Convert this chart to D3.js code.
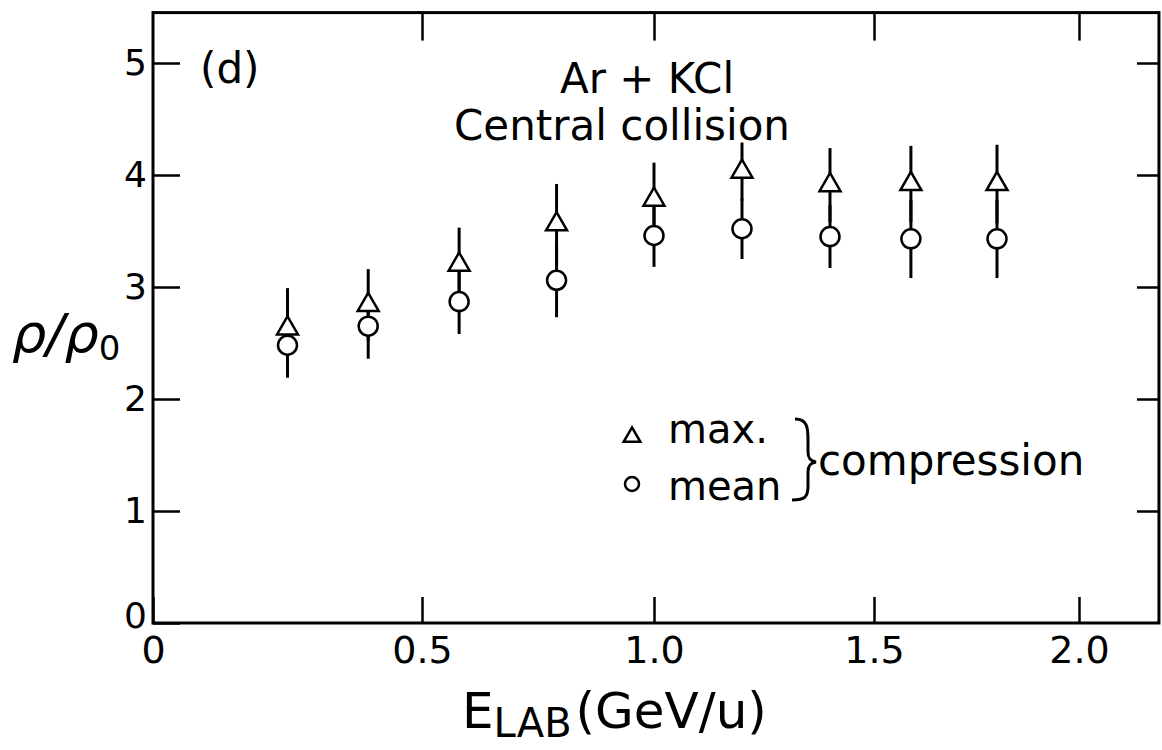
<!DOCTYPE html>
<html>
<head>
<meta charset="utf-8">
<script src="https://cdn.jsdelivr.net/npm/d3@7"></script>
<style>
  body { margin: 0; background: #fff; }
  text { font-family: "DejaVu Sans", sans-serif; fill: #000; }
</style>
</head>
<body>
<svg id="chart" width="1162" height="750"></svg>
<script>
// Values (E_LAB in GeV/u, rho/rho0)
const energy    = [0.25, 0.40, 0.58, 0.79, 1.00, 1.20, 1.40, 1.59, 1.80];
const maxRatio  = [2.63, 2.84, 3.20, 3.56, 3.78, 4.03, 3.91, 3.92, 3.92];
const maxErr    = [0.36, 0.32, 0.33, 0.36, 0.33, 0.26, 0.33, 0.34, 0.35];
const meanRatio = [2.48, 2.65, 2.87, 3.06, 3.46, 3.52, 3.45, 3.43, 3.43];
const meanErr   = [0.29, 0.29, 0.29, 0.33, 0.28, 0.27, 0.28, 0.35, 0.35];

const xTicks = [0, 0.5, 1.0, 1.5, 2.0];
const xTickLabels = ['0', '0.5', '1.0', '1.5', '2.0'];
const yTicks = [0, 1, 2, 3, 4, 5];
const yTickLabels = ['0', '1', '2', '3', '4', '5'];

const rows = energy.map((e, i) => ({
  e, max: maxRatio[i], maxErr: maxErr[i], mean: meanRatio[i], meanErr: meanErr[i]
}));

const svg = d3.select('#chart');

// the original hand-drawn axis is not evenly spaced, so use a piecewise scale
const x = d3.scaleLinear().domain(xTicks).range([153, 422, 654, 874, 1079]);
const y = d3.scaleLinear().domain([0, 5]).range([623, 63]);

const frameL = x(0), frameR = x(2.195), frameT = y(5.45), frameB = y(0);

// frame
svg.append('rect')
  .attr('x', frameL).attr('y', frameT)
  .attr('width', frameR - frameL).attr('height', frameB - frameT)
  .attr('fill', 'none').attr('stroke', '#000').attr('stroke-width', 3);

const styleAxis = (g, size) => {
  g.select('.domain').remove();
  g.selectAll('line').attr('stroke', '#000').attr('stroke-width', 2.5);
  g.selectAll('text').attr('font-size', size).attr('fill', '#000');
};

// bottom axis
svg.append('g')
  .attr('transform', `translate(0,${frameB})`)
  .call(d3.axisBottom(x).tickValues(xTicks).tickFormat((d, i) => xTickLabels[i]).tickSize(-26).tickPadding(13))
  .call(g => styleAxis(g, 38));

// top axis, ticks only
svg.append('g')
  .attr('transform', `translate(0,${frameT})`)
  .call(d3.axisTop(x).tickValues(xTicks.slice(1)).tickFormat('').tickSize(-28))
  .call(g => styleAxis(g, 10));

// left axis
svg.append('g')
  .attr('transform', `translate(${frameL},0)`)
  .call(d3.axisLeft(y).tickValues(yTicks).tickFormat((d, i) => yTickLabels[i]).tickSize(-27).tickPadding(6))
  .call(g => styleAxis(g, 36))
  .call(g => g.selectAll('.tick text').filter(d => d === 0).attr('y', -7));

// right axis, ticks only
svg.append('g')
  .attr('transform', `translate(${frameR},0)`)
  .call(d3.axisRight(y).tickValues(yTicks.slice(1)).tickFormat('').tickSize(-22))
  .call(g => styleAxis(g, 10));

// error bars
const points = svg.append('g').attr('class', 'points');

points.selectAll('.bar-max').data(rows).join('line')
  .attr('class', 'bar-max')
  .attr('x1', d => x(d.e)).attr('x2', d => x(d.e))
  .attr('y1', d => y(d.max + d.maxErr)).attr('y2', d => y(d.max - d.maxErr))
  .attr('stroke', '#000').attr('stroke-width', 3);

points.selectAll('.bar-mean').data(rows).join('line')
  .attr('class', 'bar-mean')
  .attr('x1', d => x(d.e)).attr('x2', d => x(d.e))
  .attr('y1', d => y(d.mean + d.meanErr)).attr('y2', d => y(d.mean - d.meanErr))
  .attr('stroke', '#000').attr('stroke-width', 3);

// markers
const triangle = d3.symbol(d3.symbolTriangle, 190);

points.selectAll('.max').data(rows).join('path')
  .attr('class', 'max')
  .attr('d', triangle)
  .attr('transform', d => `translate(${x(d.e)},${y(d.max)})`)
  .attr('fill', '#fff').attr('stroke', '#000').attr('stroke-width', 2.5);

points.selectAll('.mean').data(rows).join('circle')
  .attr('class', 'mean')
  .attr('cx', d => x(d.e)).attr('cy', d => y(d.mean)).attr('r', 9.5)
  .attr('fill', '#fff').attr('stroke', '#000').attr('stroke-width', 2.5);

// panel label and title
svg.append('text').attr('x', 200).attr('y', 83).attr('font-size', 42).text('(d)');
svg.append('text').attr('x', 647).attr('y', 93).attr('font-size', 42)
  .attr('text-anchor', 'middle').text('Ar + KCl');
svg.append('text').attr('x', 622).attr('y', 140).attr('font-size', 42)
  .attr('text-anchor', 'middle').text('Central collision');

// legend
const legend = svg.append('g').attr('class', 'legend');
legend.append('path').attr('d', d3.symbol(d3.symbolTriangle, 120))
  .attr('transform', 'translate(632,437)')
  .attr('fill', 'none').attr('stroke', '#000').attr('stroke-width', 2.5);
legend.append('circle').attr('cx', 632).attr('cy', 484).attr('r', 7)
  .attr('fill', 'none').attr('stroke', '#000').attr('stroke-width', 2.5);
legend.append('text').attr('x', 668).attr('y', 443).attr('font-size', 40).text('max.');
legend.append('text').attr('x', 668).attr('y', 500).attr('font-size', 40).text('mean');
legend.append('path')
  .attr('d', 'M795,419 C807,419 808,427 808,440 L808,452 C808,458 810,461 816,462 C810,463 808,466 808,472 L808,486 C808,497 805,500 792,500')
  .attr('fill', 'none').attr('stroke', '#000').attr('stroke-width', 3);
legend.append('text').attr('x', 818).attr('y', 475).attr('font-size', 42).text('compression');

// axis titles
const yTitle = svg.append('text').attr('x', 12).attr('y', 352).attr('font-size', 54);
yTitle.append('tspan').attr('font-style', 'italic').text('ρ/ρ');
yTitle.append('tspan').attr('font-size', 34).attr('dy', 8).text('0');

const xTitle = svg.append('text').attr('x', 462).attr('y', 728).attr('font-size', 50);
xTitle.append('tspan').text('E');
xTitle.append('tspan').attr('font-size', 40).attr('dy', 9).text('LAB');
xTitle.append('tspan').attr('dy', -9).attr('dx', 4).text('(GeV/u)');
</script>
</body>
</html>
